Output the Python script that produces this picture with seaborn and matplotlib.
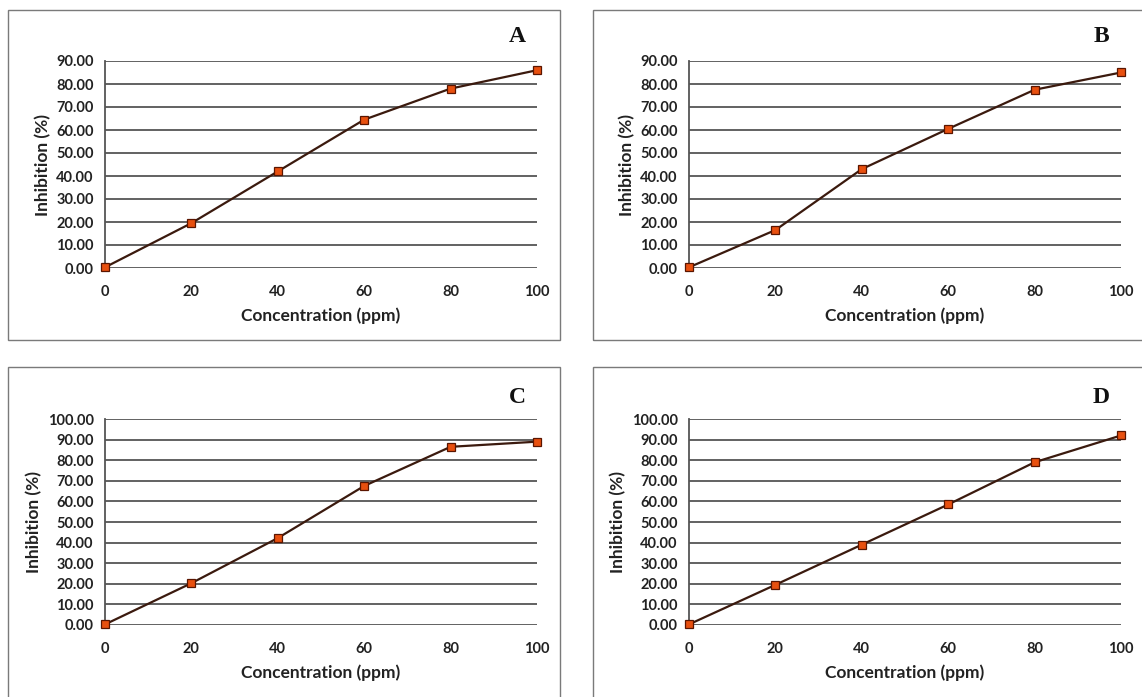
import matplotlib
matplotlib.use("Agg")
import matplotlib.pyplot as plt
import pandas as pd
import seaborn as sns
from matplotlib.patches import Rectangle

# values
concentration = [0, 20, 40, 60, 80, 100]
inhibition_a = [0.3, 19.5, 42.0, 64.5, 78.0, 86.0]
inhibition_b = [0.3, 16.5, 43.0, 60.5, 77.5, 85.0]
inhibition_c = [0.3, 20.3, 42.2, 67.5, 86.5, 89.0]
inhibition_d = [0.3, 19.5, 39.0, 58.5, 79.0, 92.0]
panel_names = ["A", "B", "C", "D"]
y_max = [90, 90, 100, 100]

sns.set_theme(style="white")
plt.rcParams["font.family"] = ["Lato", "DejaVu Sans"]

W, H = 1142, 697
fig = plt.figure(figsize=(W / 100, H / 100), dpi=100)

# panel frames (pixel boxes) and axes areas
frames = [(8, 10, 560, 340), (593, 10, 1160, 340), (8, 367, 560, 710), (593, 367, 1160, 710)]
axes_px = [(105, 61, 537, 268), (689, 61, 1121, 268), (105, 419, 537, 625), (689, 419, 1121, 625)]

series = [inhibition_a, inhibition_b, inhibition_c, inhibition_d]

for name, vals, ymax, frame, box in zip(panel_names, series, y_max, frames, axes_px):
    x0, y0, x1, y1 = frame
    fig.patches.append(Rectangle((x0 / W, 1 - y1 / H), (x1 - x0) / W, (y1 - y0) / H,
                                 transform=fig.transFigure, fill=False,
                                 edgecolor="#7a7a7a", linewidth=1.0))

    l, t, r, b = box
    ax = fig.add_axes([l / W, 1 - b / H, (r - l) / W, (b - t) / H])
    df = pd.DataFrame({"Concentration": concentration, "Inhibition": vals})
    sns.lineplot(data=df, x="Concentration", y="Inhibition", ax=ax,
                 color="#3b1a0e", linewidth=1.6, marker="s", markersize=5.5,
                 markerfacecolor="#e8500f", markeredgecolor="#5a1500",
                 markeredgewidth=0.9, zorder=5, clip_on=False)

    ax.set_xlim(0, 100)
    ax.set_ylim(0, ymax)
    ax.set_xticks(concentration)
    ax.set_yticks(range(0, ymax + 1, 10))
    ax.set_yticklabels([f"{v:.2f}" for v in range(0, ymax + 1, 10)])
    ax.yaxis.grid(True, color="#555555", linewidth=1.3)
    ax.set_axisbelow(True)
    for side in ["top", "right", "bottom"]:
        ax.spines[side].set_visible(False)
    ax.spines["left"].set_color("#555555")
    ax.spines["left"].set_linewidth(1.3)
    ax.tick_params(axis="both", length=0, labelsize=10.5, colors="#222222")
    ax.tick_params(axis="x", pad=12)
    ax.tick_params(axis="y", pad=8)
    for lab in ax.get_xticklabels() + ax.get_yticklabels():
        lab.set_fontweight("bold")
    ax.set_xlabel("Concentration (ppm)", fontsize=12.5, fontweight="bold", color="#222222", labelpad=6)
    ax.set_ylabel("Inhibition (%)", fontsize=12.5, fontweight="bold", color="#222222", labelpad=4)

    ax.text(0.955, 1.07 if ymax == 90 else 1.055, name, transform=ax.transAxes,
            fontsize=17, fontweight="bold", family="Liberation Serif",
            ha="center", va="bottom", color="#111111")

fig.savefig("out.png", dpi=100)
